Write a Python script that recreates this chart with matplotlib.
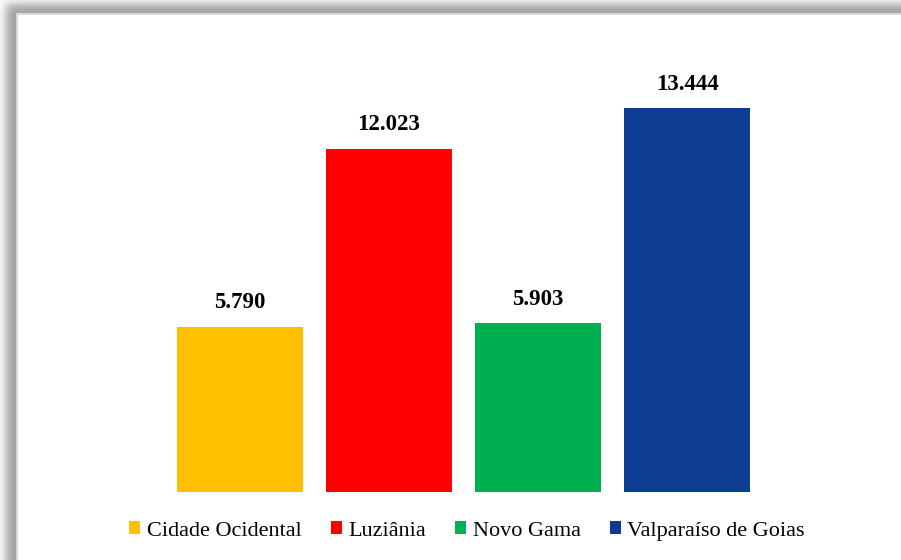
import numpy as np
import matplotlib.pyplot as plt
from matplotlib.patches import Patch

plt.rcParams["font.family"] = ["Liberation Serif", "DejaVu Serif"]

municipios = ["Cidade Ocidental", "Luziânia", "Novo Gama", "Valparaíso de Goias"]
valores = [5790, 12023, 5903, 13444]
cores = ["#FFC000", "#FF0000", "#00B050", "#0D3C93"]

W, H = 901, 560
fig = plt.figure(figsize=(W / 100, H / 100), dpi=100)

# background: white card with soft gray shadow at top/left
bg = fig.add_axes([0, 0, 1, 1])
bg.axis("off")
xs = np.arange(W) + 0.5
ys = np.arange(H) + 0.5
fx = 1 / (1 + np.exp(-(xs - 6) / 3.0))
fy = 1 / (1 + np.exp(-(ys - 4) / 3.0))
img = 1 - 0.38 * np.outer(fy, fx)
img[13:, 16:] = 1.0
img[13:15, 16:] = 0.85
img[13:, 16:18] = 0.85
bg.imshow(np.dstack([img] * 3), extent=[0, W, H, 0], interpolation="bilinear", aspect="auto")
bg.set_xlim(0, W)
bg.set_ylim(H, 0)

# main bar axes
ax = fig.add_axes([165.5 / W, (H - 492) / H, 596 / W, 457 / H])
ax.set_facecolor("none")
x = np.arange(len(valores))
bars = ax.bar(x, [v / 1000 for v in valores], width=0.846, color=cores)
for b, v in zip(bars, valores):
    ax.text(b.get_x() + b.get_width() / 2, b.get_height() + 0.47,
            f"{v:,}".replace(",", "."), ha="center", va="bottom",
            fontsize=16.5, fontweight="bold")
ax.set_xlim(-0.5, 3.5)
ax.set_ylim(0, 16)
ax.axis("off")

handles = [Patch(facecolor=c, edgecolor="none") for c in cores]
fig.legend(handles, municipios, loc="center", bbox_to_anchor=(467 / W, 1 - 531 / H),
           ncol=4, frameon=False, fontsize=16, handlelength=0.5, handleheight=0.5,
           handletextpad=0.3, columnspacing=1.3, borderpad=0, borderaxespad=0)

fig.savefig("out.png", dpi=100)
